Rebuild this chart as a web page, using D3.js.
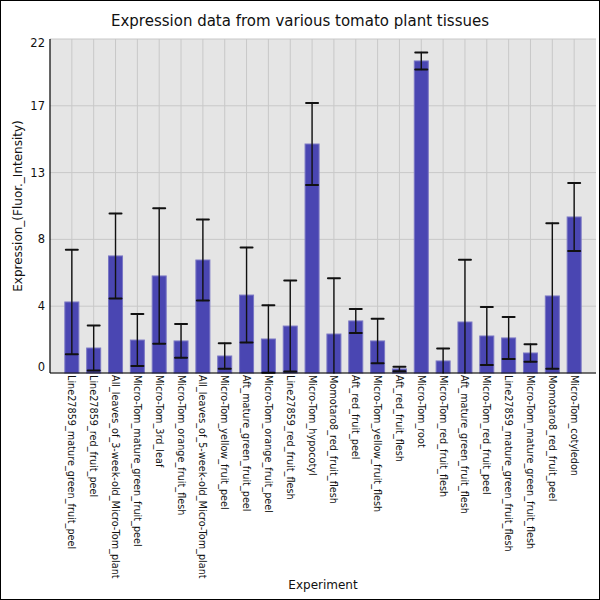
<!DOCTYPE html>
<html>
<head>
<meta charset="utf-8">
<script src="https://cdn.jsdelivr.net/npm/d3@7"></script>
<style>
  body { margin: 0; background: #fff; }
  svg { display: block; font-family: "DejaVu Sans", sans-serif; }
</style>
</head>
<body>
<div class="chart"></div>
<script>
const tissues = [
  "Line27859_mature_green_fruit_peel", "Line27859_red_fruit_peel",
  "All_leaves_of_3-week-old_Micro-Tom_plant", "Micro-Tom_mature_green_fruit_peel",
  "Micro-Tom_3rd_leaf", "Micro-Tom_orange_fruit_flesh",
  "All_leaves_of_5-week-old_Micro-Tom_plant", "Micro-Tom_yellow_fruit_peel",
  "Aft_mature_green_fruit_peel", "Micro-Tom_orange_fruit_peel",
  "Line27859_red_fruit_flesh", "Micro-Tom_hypocotyl",
  "Momotaro8_red_fruit_flesh", "Aft_red_fruit_peel",
  "Micro-Tom_yellow_fruit_flesh", "Aft_red_fruit_flesh",
  "Micro-Tom_root", "Micro-Tom_red_fruit_flesh",
  "Aft_mature_green_fruit_flesh", "Micro-Tom_red_fruit_peel",
  "Line27859_mature_green_fruit_flesh", "Micro-Tom_mature_green_fruit_flesh",
  "Momotaro8_red_fruit_peel", "Micro-Tom_cotyledon"
]
const means = [4.72, 1.66, 7.78, 2.19, 6.45, 2.13, 7.51, 1.13, 5.18, 2.26, 3.12, 15.22,
               2.59, 3.46, 2.13, 0.27, 20.74, 0.80, 3.39, 2.46, 2.33, 1.33, 5.12, 10.37]
const sds = [3.47, 1.49, 2.82, 1.73, 4.50, 1.12, 2.69, 0.85, 3.16, 2.25, 3.02, 2.72,
             3.70, 0.80, 1.48, 0.15, 0.57, 0.83, 4.14, 1.93, 1.40, 0.58, 4.83, 2.26]
const yMax = 22.2

const width = 600
const height = 600
const margin = { top: 39, right: 4, bottom: 227, left: 50 }

const svg = d3.select(".chart").append("svg")
  .attr("width", width)
  .attr("height", height)

svg.append("rect")
  .attr("x", 0.5).attr("y", 0.5)
  .attr("width", width - 1).attr("height", height - 1)
  .attr("fill", "#fff")
  .attr("stroke", "#000")

const x = d3.scalePoint()
  .domain(tissues)
  .range([margin.left, width - margin.right])
  .padding(1)

const y = d3.scaleLinear()
  .domain([0, yMax])
  .range([height - margin.bottom, margin.top])

const yTicks = d3.range(6).map(i => yMax * i / 5)

// plot background
svg.append("rect")
  .attr("x", margin.left)
  .attr("y", margin.top)
  .attr("width", width - margin.left - margin.right)
  .attr("height", height - margin.top - margin.bottom)
  .attr("fill", "#e5e5e5")

// grid
const grid = svg.append("g")
  .attr("stroke", "#c8c8c8")
  .attr("stroke-width", 1)

grid.selectAll(".hg").data(yTicks).join("line")
  .attr("x1", margin.left).attr("x2", width - margin.right)
  .attr("y1", d => y(d)).attr("y2", d => y(d))

grid.selectAll(".vg").data(tissues).join("line")
  .attr("x1", d => x(d)).attr("x2", d => x(d))
  .attr("y1", margin.top).attr("y2", height - margin.bottom)

// bars
const barW = 14
const data = tissues.map((t, i) => ({ t, mean: means[i], sd: sds[i] }))

svg.append("g")
  .selectAll("rect").data(data).join("rect")
  .attr("x", d => x(d.t) - barW / 2)
  .attr("y", d => y(d.mean))
  .attr("width", barW)
  .attr("height", d => y(0) - y(d.mean))
  .attr("fill", "#4a46b2")
  .attr("stroke", "#7a77c4")
  .attr("stroke-width", 1)

// error bars
const gErr = svg.append("g")
  .attr("stroke", "#111")
  .attr("stroke-linecap", "round")

const clampY = v => y(Math.max(0, v))

gErr.selectAll(".stem").data(data).join("line")
  .attr("x1", d => x(d.t)).attr("x2", d => x(d.t))
  .attr("y1", d => y(d.mean + d.sd))
  .attr("y2", d => clampY(d.mean - d.sd))
  .attr("stroke-width", 1.4)

gErr.selectAll(".capTop").data(data).join("line")
  .attr("x1", d => x(d.t) - 6).attr("x2", d => x(d.t) + 6)
  .attr("y1", d => y(d.mean + d.sd)).attr("y2", d => y(d.mean + d.sd))
  .attr("stroke-width", 2)

gErr.selectAll(".capBot").data(data.filter(d => d.mean - d.sd >= 0)).join("line")
  .attr("x1", d => x(d.t) - 6).attr("x2", d => x(d.t) + 6)
  .attr("y1", d => y(d.mean - d.sd)).attr("y2", d => y(d.mean - d.sd))
  .attr("stroke-width", 2)

// axes
svg.append("line")
  .attr("x1", margin.left).attr("x2", margin.left)
  .attr("y1", margin.top).attr("y2", height - margin.bottom)
  .attr("stroke", "#000").attr("stroke-width", 1.2)

svg.append("line")
  .attr("x1", margin.left).attr("x2", width - margin.right)
  .attr("y1", height - margin.bottom).attr("y2", height - margin.bottom)
  .attr("stroke", "#000").attr("stroke-width", 1.2)

// y tick labels
svg.append("g")
  .selectAll("text").data(yTicks).join("text")
  .attr("x", margin.left - 5)
  .attr("y", (d, i) => y(d) + (i === 0 ? -2 : i === 5 ? 8 : 4))
  .attr("text-anchor", "end")
  .attr("font-size", 11.5)
  .attr("fill", "#111")
  .text(d => Math.floor(d))

// x tick labels
svg.append("g")
  .selectAll("text").data(tissues).join("text")
  .attr("transform", d => `translate(${x(d) - 3.5},${height - margin.bottom + 2}) rotate(90)`)
  .attr("font-size", 9.7)
  .attr("fill", "#111")
  .text(d => d)

// titles
svg.append("text")
  .attr("x", width / 2).attr("y", 26)
  .attr("text-anchor", "middle")
  .attr("font-size", 15)
  .attr("fill", "#111")
  .text("Expression data from various tomato plant tissues")

svg.append("text")
  .attr("x", (margin.left + width - margin.right) / 2).attr("y", 589)
  .attr("text-anchor", "middle")
  .attr("font-size", 12)
  .attr("fill", "#111")
  .text("Experiment")

svg.append("text")
  .attr("transform", `translate(22,${(margin.top + height - margin.bottom) / 2}) rotate(-90)`)
  .attr("text-anchor", "middle")
  .attr("font-size", 12)
  .attr("fill", "#111")
  .text("Expression_(Fluor._Intensity)")
</script>
</body>
</html>
